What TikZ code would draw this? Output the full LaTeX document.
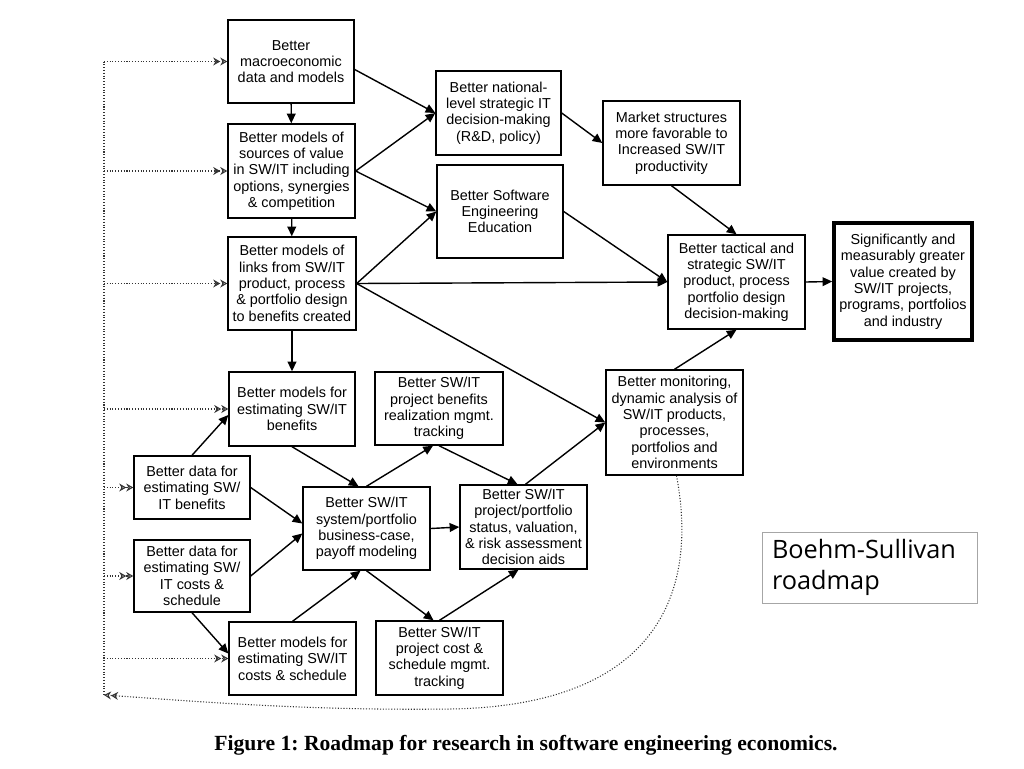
\documentclass[tikz,border=0pt]{standalone}
\usepackage{fontspec}
\setmainfont{Liberation Sans}
\newfontfamily\labelfont{Open Sans}
\newfontfamily\capfont{Liberation Serif}
\usetikzlibrary{arrows.meta,calc}
\frenchspacing

\tikzset{
  box/.style={draw,line width=0.8pt,align=center,inner sep=0pt,font=\fontsize{8.2}{9.3}\selectfont},
  sz/.style 2 args={minimum width=#1*0.02cm,minimum height=#2*0.02cm},
  arr/.style={line width=0.8pt,-{Triangle[length=5.5pt,width=5pt]}},
  fb/.style={densely dotted,line width=0.6pt,black!80},
  fbarr/.style={fb,-{Stealth[open,length=4pt,width=4.5pt]Stealth[open,length=4pt,width=4.5pt]}}
}

\begin{document}
\begin{tikzpicture}[x=0.02cm,y=-0.02cm]
\useasboundingbox (0,0) rectangle (1024,768);
% left column
\node[box,sz={126}{83}] (macro) at (291,61.5) {Better\\macroeconomic\\data and models};
\node[box,sz={127}{94}] (sources) at (291.5,171) {Better models of\\sources of value\\in SW/IT including\\options, synergies\\\& competition};
\node[box,sz={128}{93}] (links) at (292,283.5) {Better models of\\links from SW/IT\\product, process\\\& portfolio design\\to benefits created};
% upper middle
\node[box,sz={125}{84}] (national) at (498.5,113) {Better national-\\level strategic IT\\decision-making\\(R\&D, policy)};
\node[box,sz={126}{93}] (education) at (500,211.5) {Better Software\\Engineering\\Education};
\node[box,sz={137}{84}] (market) at (671.5,143) {Market structures\\more favorable to\\Increased SW/IT\\productivity};
\node[box,sz={137}{94}] (tactical) at (736.5,282) {Better tactical and\\strategic SW/IT\\product, process\\portfolio design\\decision-making};
\node[box,sz={138}{117},line width=2pt] (value) at (903,281.5) {Significantly and\\measurably greater\\value created by\\SW/IT projects,\\programs, portfolios\\and industry};
% lower part
\node[box,sz={126}{74}] (benmod) at (292,409) {Better models for\\estimating SW/IT\\benefits};
\node[box,sz={128}{73}] (bentrack) at (439,408.5) {Better SW/IT\\project benefits\\realization mgmt.\\tracking};
\node[box,sz={137}{105}] (monitor) at (674.5,422.5) {Better monitoring,\\dynamic analysis of\\SW/IT products,\\processes,\\portfolios and\\environments};
\node[box,sz={116}{63}] (databen) at (192,487.5) {Better data for\\estimating SW/\\IT benefits};
\node[box,sz={116}{72}] (datacost) at (192,576) {Better data for\\estimating SW/\\IT costs \&\\schedule};
\node[box,sz={127}{83}] (business) at (366.5,528.5) {Better SW/IT\\system/portfolio\\business-case,\\payoff modeling};
\node[box,sz={127}{84}] (status) at (523.5,527) {Better SW/IT\\project/portfolio\\status, valuation,\\\& risk assessment\\decision aids};
\node[box,sz={127}{73}] (costmod) at (292.5,658.5) {Better models for\\estimating SW/IT\\costs \& schedule};
\node[box,sz={127}{74}] (costtrack) at (439.5,658) {Better SW/IT\\project cost \&\\schedule mgmt.\\tracking};
% label and caption
\node[draw=black!35,line width=0.5pt,sz={215}{71},inner sep=0pt,text width=3.9cm,align=left,font=\labelfont\fontsize{14.4}{17.2}\selectfont] (label) at (869.5,567.5) {Boehm-Sullivan\\roadmap};
\node[font=\capfont\bfseries\fontsize{12.3}{14}\selectfont] (caption) at (526,745) {Figure 1: Roadmap for research in software engineering economics.};

% solid arrows
\draw[arr] (macro) -- (sources);
\draw[arr] (sources) -- (links);
\draw[arr] (links) -- (benmod);
\draw[arr] ($(macro.east)+(0,8)$) -- (national.west);
\draw[arr] (sources.east) -- (national.west);
\draw[arr] (sources.east) -- (education.west);
\draw[arr] (links.east) -- (education.west);
\draw[arr] (links.east) -- (tactical.west);
\draw[arr] (links.east) -- (monitor.west);
\draw[arr] (national.east) -- (market.west);
\draw[arr] (education.east) -- (tactical.west);
\draw[arr] (market.south) -- (tactical.north);
\draw[arr] (monitor.north) -- (tactical.south);
\draw[arr] (tactical.east) -- (value.west);
\draw[arr] (databen.north) -- ($(benmod.west)+(0,6)$);
\draw[arr] (databen.east) -- ($(business.west)+(0,-5)$);
\draw[arr] (datacost.east) -- ($(business.west)+(0,5)$);
\draw[arr] (datacost.south) -- ($(costmod.west)+(0,-5)$);
\draw[arr] (benmod.south) -- ($(business.north)+(-8,0)$);
\draw[arr] (costmod.north) -- ($(business.south)+(-6,0)$);
\draw[arr] (business.north) -- ($(bentrack.south)+(-6,0)$);
\draw[arr] (business.south) -- ($(costtrack.north)+(-6,0)$);
\draw[arr] (business.east) -- (status.west);
\draw[arr] (bentrack.south) -- ($(status.north)+(-6,0)$);
\draw[arr] (costtrack.north) -- ($(status.south)+(-5,0)$);
\draw[arr] ($(status.north)+(2,0)$) -- (monitor.west);

% feedback loop
\coordinate (fbtop) at (104,61.5);
\coordinate (fbbot) at (104,695);
\draw[fbarr] ($(monitor.south)+(2,0)$) .. controls (700,600) and (650,706) .. (450,709) .. controls (300,711) and (180,700) .. (fbbot);
\draw[fb] (fbtop) -- (fbbot);
\foreach \t in {macro,sources,links,benmod,databen,datacost,costmod}
  \draw[fbarr] (fbtop |- \t.west) -- (\t.west);
\end{tikzpicture}
\end{document}
